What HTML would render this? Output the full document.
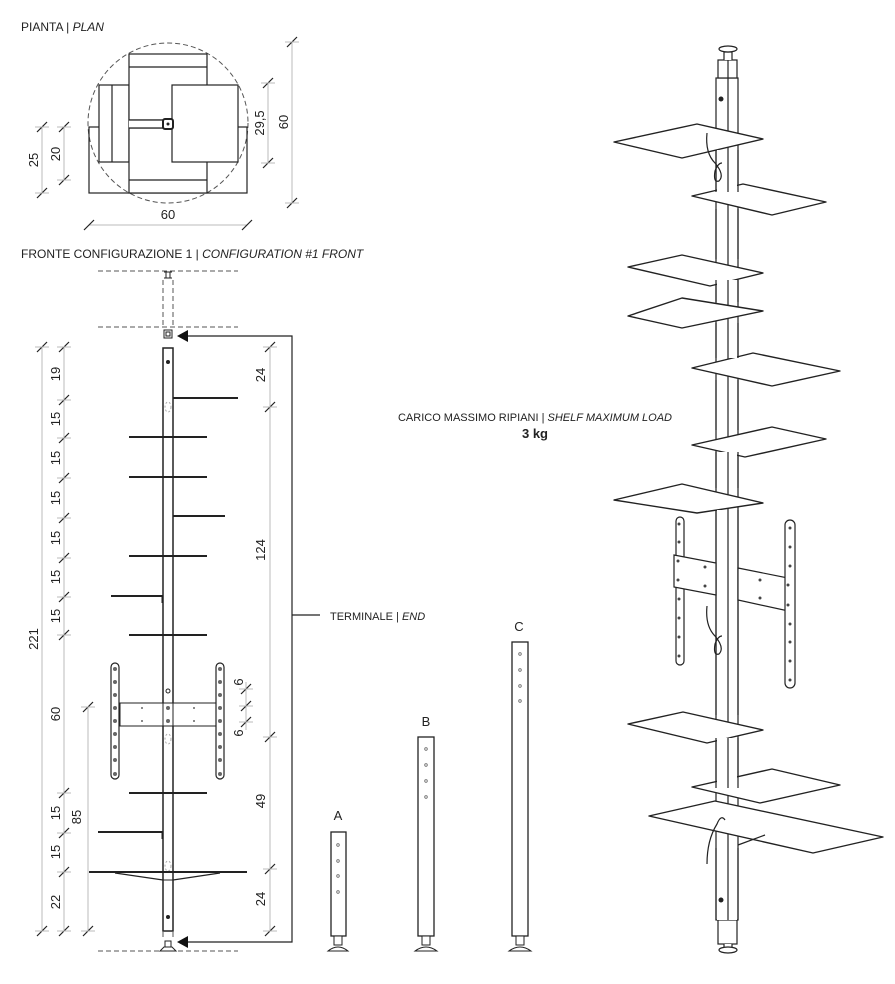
<!DOCTYPE html>
<html><head><meta charset="utf-8"><style>
html,body{margin:0;padding:0;background:#fff}
svg{display:block}
text{font-family:"Liberation Sans",sans-serif;fill:#222}
</style></head><body>
<svg width="895" height="984" viewBox="0 0 895 984" xmlns="http://www.w3.org/2000/svg">
<defs>
<g id="tk"><line x1="-5" y1="5" x2="5" y2="-5" stroke="#222" stroke-width="1.2"/><line x1="-7" y1="0" x2="7" y2="0" stroke="#bbb" stroke-width="1"/></g>
</defs>
<!-- PLAN -->
<text x="21" y="31" font-size="12">PIANTA | <tspan font-style="italic">PLAN</tspan></text>
<circle cx="168" cy="123" r="80" fill="none" stroke="#555" stroke-dasharray="5,3" stroke-width="1"/>
<g fill="none" stroke="#222" stroke-width="1.2">
<rect x="89" y="127" width="158" height="66"/>
<rect x="99" y="85" width="30" height="77" fill="#fff"/>
<line x1="112" y1="85" x2="112" y2="162"/>
<rect x="129" y="54" width="78" height="66" fill="#fff"/>
<line x1="129" y1="67" x2="207" y2="67"/>
<rect x="129" y="128" width="78" height="65" fill="#fff"/>
<line x1="129" y1="180" x2="207" y2="180"/>
<rect x="172" y="85" width="66" height="77" fill="#fff"/>
<rect x="129" y="120" width="43" height="8" fill="#fff" stroke="none"/>
<line x1="129" y1="120" x2="163" y2="120"/><line x1="129" y1="128" x2="163" y2="128"/>
<rect x="163" y="119" width="10" height="10" rx="2" stroke-width="2" fill="#fff"/>
</g>
<circle cx="168" cy="124" r="1.5" fill="#222"/>
<g stroke="#bbb" stroke-width="1">
<line x1="292" y1="42" x2="292" y2="203"/><line x1="268" y1="83" x2="268" y2="163"/>
<line x1="42" y1="127" x2="42" y2="193"/><line x1="64" y1="127" x2="64" y2="180"/>
<line x1="89" y1="225" x2="247" y2="225"/>
</g>
<use href="#tk" x="292" y="42"/><use href="#tk" x="292" y="203"/>
<use href="#tk" x="268" y="83"/><use href="#tk" x="268" y="163"/>
<use href="#tk" x="42" y="127"/><use href="#tk" x="42" y="193"/>
<use href="#tk" x="64" y="127"/><use href="#tk" x="64" y="180"/>
<g stroke="#222" stroke-width="1.2"><line x1="84" y1="230" x2="94" y2="220"/><line x1="242" y1="230" x2="252" y2="220"/></g>
<g font-size="13">
<text transform="translate(288,122) rotate(-90)" text-anchor="middle">60</text>
<text transform="translate(264,123) rotate(-90)" text-anchor="middle">29,5</text>
<text transform="translate(38,160) rotate(-90)" text-anchor="middle">25</text>
<text transform="translate(60,154) rotate(-90)" text-anchor="middle">20</text>
<text x="168" y="219" text-anchor="middle">60</text>
</g>
<!-- FRONT -->
<text x="21" y="258" font-size="12">FRONTE CONFIGURAZIONE 1 | <tspan font-style="italic">CONFIGURATION #1 FRONT</tspan></text>
<g stroke="#555" stroke-width="1" stroke-dasharray="5,3" fill="none">
<line x1="98" y1="271" x2="238" y2="271"/><line x1="98" y1="327" x2="238" y2="327"/>
<line x1="98" y1="951" x2="238" y2="951"/>
<line x1="163" y1="280" x2="163" y2="327"/><line x1="173" y1="280" x2="173" y2="327"/>
<line x1="163" y1="932" x2="163" y2="940"/><line x1="173" y1="932" x2="173" y2="940"/>
</g>
<g stroke="#222" fill="none" stroke-width="1">
<rect x="164" y="330" width="8" height="8"/><rect x="166" y="332" width="4" height="4"/>
<path d="M164 272h8M166 272v6h4v-6M164 278h8"/>
<path d="M160 951h16l-4-4h-8zM165 947v-6h6v6"/>
</g>
<rect x="163" y="348" width="10" height="583" fill="#fff" stroke="#222" stroke-width="1.5"/>
<circle cx="168" cy="362" r="2" fill="#222"/><circle cx="168" cy="917" r="2" fill="#222"/>
<circle cx="168" cy="691" r="2" fill="none" stroke="#222"/>
<g stroke="#aaa" stroke-dasharray="2,2" fill="none">
<ellipse cx="168" cy="407" rx="3" ry="5"/><ellipse cx="168" cy="739" rx="3" ry="5"/><ellipse cx="168" cy="866" rx="3" ry="5"/>
</g>
<g stroke="#222" stroke-width="2">
<line x1="173" y1="398" x2="238" y2="398"/><line x1="173" y1="398" x2="173" y2="405" stroke-width="1"/>
<line x1="129" y1="437" x2="207" y2="437"/>
<line x1="129" y1="477" x2="207" y2="477"/>
<line x1="173" y1="516" x2="225" y2="516"/><line x1="173" y1="516" x2="173" y2="523" stroke-width="1"/>
<line x1="129" y1="556" x2="207" y2="556"/>
<line x1="111" y1="596" x2="163" y2="596"/><line x1="162" y1="596" x2="162" y2="603" stroke-width="1"/>
<line x1="129" y1="635" x2="207" y2="635"/>
<line x1="129" y1="793" x2="207" y2="793"/>
<line x1="98" y1="832" x2="163" y2="832"/><line x1="162" y1="832" x2="162" y2="839" stroke-width="1"/>
<line x1="89" y1="872" x2="247" y2="872"/>
<path d="M115 873L163 880M173 880L220 873" stroke-width="1.2" fill="none"/>
</g>
<rect x="163" y="872" width="10" height="8" fill="none" stroke="#222"/>
<!-- TV bracket front -->
<rect x="120" y="703" width="97" height="23" fill="#fff" stroke="#222" stroke-width="1"/>
<rect x="163" y="703" width="10" height="23" fill="#fff" stroke="#222" stroke-width="1"/>
<rect x="111" y="663" width="8" height="116" rx="4" fill="#fff" stroke="#222" stroke-width="1.2"/>
<rect x="216" y="663" width="8" height="116" rx="4" fill="#fff" stroke="#222" stroke-width="1.2"/>
<g fill="#666">
<circle cx="115" cy="669" r="2"/><circle cx="115" cy="682" r="2"/><circle cx="115" cy="695" r="2"/><circle cx="115" cy="708" r="2"/><circle cx="115" cy="721" r="2"/><circle cx="115" cy="734" r="2"/><circle cx="115" cy="747" r="2"/><circle cx="115" cy="760" r="2"/><circle cx="115" cy="774" r="2"/>
<circle cx="220" cy="669" r="2"/><circle cx="220" cy="682" r="2"/><circle cx="220" cy="695" r="2"/><circle cx="220" cy="708" r="2"/><circle cx="220" cy="721" r="2"/><circle cx="220" cy="734" r="2"/><circle cx="220" cy="747" r="2"/><circle cx="220" cy="760" r="2"/><circle cx="220" cy="774" r="2"/>
<circle cx="168" cy="708" r="2"/><circle cx="168" cy="721" r="2"/>
<circle cx="142" cy="708" r="1"/><circle cx="142" cy="721" r="1"/><circle cx="194" cy="708" r="1"/><circle cx="194" cy="721" r="1"/>
</g>
<!-- arrows -->
<g stroke="#222" stroke-width="1.2" fill="none">
<path d="M186 336H292V942H186M292 615H320"/>
</g>
<path d="M177 336l11-6v12z" fill="#111"/><path d="M177 942l11-6v12z" fill="#111"/>
<text x="330" y="620" font-size="11">TERMINALE | <tspan font-style="italic">END</tspan></text>
<!-- dims -->
<g stroke="#bbb" stroke-width="1">
<line x1="42" y1="347" x2="42" y2="931"/><line x1="64" y1="347" x2="64" y2="931"/>
<line x1="88" y1="707" x2="88" y2="931"/><line x1="270" y1="347" x2="270" y2="931"/>
<line x1="246" y1="682" x2="246" y2="730"/>
</g>
<use href="#tk" x="42" y="347"/><use href="#tk" x="42" y="931"/>
<use href="#tk" x="64" y="347"/><use href="#tk" x="64" y="400"/><use href="#tk" x="64" y="438"/><use href="#tk" x="64" y="478"/><use href="#tk" x="64" y="518"/><use href="#tk" x="64" y="558"/><use href="#tk" x="64" y="597"/><use href="#tk" x="64" y="635"/><use href="#tk" x="64" y="793"/><use href="#tk" x="64" y="833"/><use href="#tk" x="64" y="872"/><use href="#tk" x="64" y="931"/>
<use href="#tk" x="88" y="707"/><use href="#tk" x="88" y="931"/>
<use href="#tk" x="270" y="347"/><use href="#tk" x="270" y="407"/><use href="#tk" x="270" y="737"/><use href="#tk" x="270" y="869"/><use href="#tk" x="270" y="931"/>
<use href="#tk" x="246" y="689"/><use href="#tk" x="246" y="706"/><use href="#tk" x="246" y="722"/>
<g font-size="13">
<text transform="translate(38,639) rotate(-90)" text-anchor="middle">221</text>
<text transform="translate(60,374) rotate(-90)" text-anchor="middle">19</text>
<text transform="translate(60,419) rotate(-90)" text-anchor="middle">15</text>
<text transform="translate(60,458) rotate(-90)" text-anchor="middle">15</text>
<text transform="translate(60,498) rotate(-90)" text-anchor="middle">15</text>
<text transform="translate(60,538) rotate(-90)" text-anchor="middle">15</text>
<text transform="translate(60,577) rotate(-90)" text-anchor="middle">15</text>
<text transform="translate(60,616) rotate(-90)" text-anchor="middle">15</text>
<text transform="translate(60,714) rotate(-90)" text-anchor="middle">60</text>
<text transform="translate(60,813) rotate(-90)" text-anchor="middle">15</text>
<text transform="translate(60,852) rotate(-90)" text-anchor="middle">15</text>
<text transform="translate(60,902) rotate(-90)" text-anchor="middle">22</text>
<text transform="translate(81,817) rotate(-90)" text-anchor="middle">85</text>
<text transform="translate(265,375) rotate(-90)" text-anchor="middle">24</text>
<text transform="translate(265,550) rotate(-90)" text-anchor="middle">124</text>
<text transform="translate(265,801) rotate(-90)" text-anchor="middle">49</text>
<text transform="translate(265,899) rotate(-90)" text-anchor="middle">24</text>
<text transform="translate(243,682) rotate(-90)" text-anchor="middle">6</text>
<text transform="translate(243,733) rotate(-90)" text-anchor="middle">6</text>
</g>
<!-- A B C -->
<g font-size="13" text-anchor="middle"><text x="338" y="820">A</text><text x="426" y="726">B</text><text x="519" y="631">C</text></g>
<g fill="#fff" stroke="#222" stroke-width="1.3">
<rect x="331" y="832" width="15" height="104"/><rect x="418" y="737" width="16" height="199"/><rect x="512" y="642" width="16" height="294"/>
</g>
<g fill="none" stroke="#666" stroke-width="0.8">
<circle cx="338" cy="845" r="1.3"/><circle cx="338" cy="861" r="1.3"/><circle cx="338" cy="876" r="1.3"/><circle cx="338" cy="892" r="1.3"/>
<circle cx="426" cy="749" r="1.3"/><circle cx="426" cy="765" r="1.3"/><circle cx="426" cy="781" r="1.3"/><circle cx="426" cy="797" r="1.3"/>
<circle cx="520" cy="654" r="1.3"/><circle cx="520" cy="670" r="1.3"/><circle cx="520" cy="686" r="1.3"/><circle cx="520" cy="701" r="1.3"/>
</g>
<g stroke="#222" stroke-width="1" fill="#fff">
<path d="M334 936h8v9h-8zM328 951q10-8 20 0z"/><path d="M422 936h8v9h-8zM415 951q11-8 22 0z"/><path d="M516 936h8v9h-8zM509 951q11-8 22 0z"/>
</g>
<!-- load text -->
<text x="535" y="421" font-size="11" text-anchor="middle">CARICO MASSIMO RIPIANI | <tspan font-style="italic">SHELF MAXIMUM LOAD</tspan></text>
<text x="535" y="438" font-size="13" font-weight="bold" text-anchor="middle">3 kg</text>
<!-- 3D -->
<g stroke="#222" stroke-width="1.2" fill="#fff">
<rect x="716" y="78" width="22" height="842"/>
<line x1="728" y1="78" x2="728" y2="920"/>
<rect x="718" y="60" width="19" height="18"/><line x1="728" y1="60" x2="728" y2="78"/>
<path d="M724 60v-8h8v8"/><ellipse cx="728" cy="49" rx="9" ry="3"/>
<rect x="718" y="920" width="19" height="24"/><path d="M724 944v5h8v-5"/><ellipse cx="728" cy="950" rx="9" ry="3"/>
</g>
<circle cx="721" cy="99" r="2.5" fill="#222"/>
<g stroke="#222" stroke-width="1.4" fill="#fff" stroke-linejoin="round">
<polygon points="614,142 697,124 763,139 682,158"/>
<polygon points="692,196 743,184 826,202 772,215"/>
<polygon points="628,267 682,255 763,273 710,286"/>
<polygon points="628,316 682,298 763,311 682,328"/>
<polygon points="692,368 753,353 840,371 772,386"/>
<polygon points="692,445 772,427 826,439 745,457"/>
<polygon points="614,500 682,484 763,503 697,513"/>
<polygon points="628,724 683,712 763,730 707,743"/>
<polygon points="649,816 715,801 883,837 813,853"/>
<polygon points="692,787 772,769 840,785 760,803"/>
</g>
<!-- pole segments in front (no horizontal edges) -->
<g fill="#fff" stroke="none">
<rect x="717" y="150" width="20" height="42"/><rect x="717" y="209" width="20" height="50"/>
<rect x="717" y="280" width="20" height="22"/><rect x="717" y="323" width="20" height="35"/>
<rect x="717" y="380" width="20" height="50"/><rect x="717" y="452" width="20" height="36"/>
<rect x="717" y="510" width="20" height="205"/><rect x="717" y="738" width="20" height="50"/>
<rect x="717" y="848" width="20" height="72"/>
</g>
<g stroke="#222" stroke-width="1.2" fill="none">
<path d="M716 150v42M728 150v42M738 150v42"/>
<path d="M716 209v50M728 209v50M738 209v50"/>
<path d="M716 280v22M728 280v22M738 280v22"/>
<path d="M716 323v35M728 323v35M738 323v35"/>
<path d="M716 380v50M728 380v50M738 380v50"/>
<path d="M716 452v36M728 452v36M738 452v36"/>
<path d="M716 510v205M728 510v205M738 510v205"/>
<path d="M716 738v50M728 738v50M738 738v50"/>
<path d="M716 848v72M728 848v72M738 848v72"/>
</g>
<circle cx="721" cy="900" r="2.5" fill="#222"/>
<!-- bracket 3D -->
<g stroke="#222" stroke-width="1.2" fill="#fff">
<rect x="676" y="517" width="8" height="148" rx="4"/>
<polygon points="674,555 716,563 716,595 674,587"/>
<polygon points="738,568 793,579 793,612 738,600"/>
<rect x="785" y="520" width="10" height="168" rx="5"/>
</g>
<g fill="#444">
<circle cx="679" cy="524" r="1.5"/><circle cx="679" cy="542" r="1.5"/><circle cx="678" cy="561" r="1.5"/><circle cx="678" cy="580" r="1.5"/><circle cx="679" cy="599" r="1.5"/><circle cx="679" cy="618" r="1.5"/><circle cx="679" cy="637" r="1.5"/><circle cx="679" cy="656" r="1.5"/>
<circle cx="705" cy="567" r="1.5"/><circle cx="705" cy="586" r="1.5"/><circle cx="760" cy="580" r="1.5"/><circle cx="760" cy="598" r="1.5"/>
<circle cx="790" cy="528" r="1.5"/><circle cx="790" cy="547" r="1.5"/><circle cx="790" cy="566" r="1.5"/><circle cx="788" cy="585" r="1.5"/><circle cx="788" cy="605" r="1.5"/><circle cx="790" cy="624" r="1.5"/><circle cx="790" cy="642" r="1.5"/><circle cx="790" cy="661" r="1.5"/><circle cx="790" cy="680" r="1.5"/>
</g>
<!-- hooks -->
<g fill="none" stroke="#222" stroke-width="1.2">
<path d="M707 133q-2 20 8 30q10 12 4 18q-6 2 -4 -10q3-8 7-8"/>
<path d="M707 606q-2 20 8 30q10 12 4 18q-6 2 -4 -10q3-8 7-8"/>
<path d="M725 820q-4-6-8 4q-10 16-10 40"/>
<path d="M738 845l27-10"/>
</g>
</svg>
</body></html>
